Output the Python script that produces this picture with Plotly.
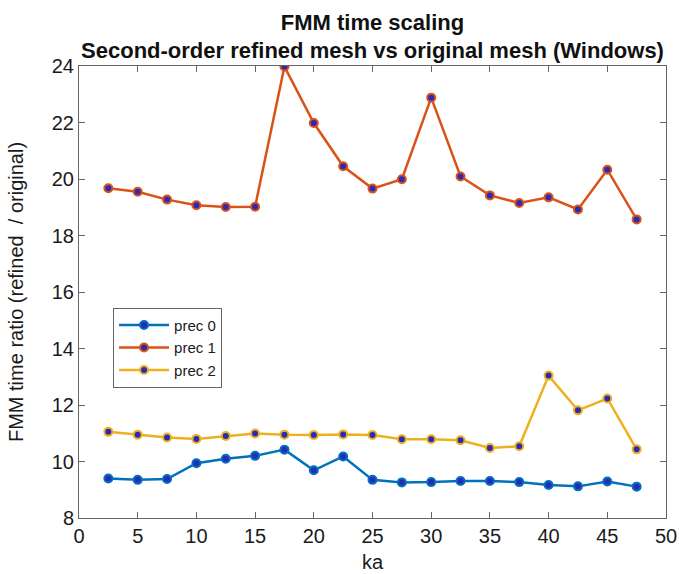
import plotly.graph_objects as go

ka = [2.5, 5, 7.5, 10, 12.5, 15, 17.5, 20, 22.5, 25, 27.5, 30, 32.5, 35, 37.5, 40, 42.5, 45, 47.5]
prec0 = [9.40, 9.35, 9.38, 9.94, 10.10, 10.20, 10.42, 9.69, 10.18, 9.35, 9.26, 9.27, 9.31, 9.31, 9.27, 9.17, 9.12, 9.29, 9.11]
prec1 = [19.67, 19.55, 19.27, 19.07, 19.01, 19.02, 23.98, 21.98, 20.45, 19.66, 19.99, 22.88, 20.09, 19.42, 19.15, 19.35, 18.92, 20.33, 18.57]
prec2 = [11.05, 10.95, 10.85, 10.80, 10.90, 10.99, 10.95, 10.94, 10.96, 10.94, 10.79, 10.79, 10.75, 10.48, 10.54, 13.04, 11.81, 12.23, 10.43]
names = ["prec 0", "prec 1", "prec 2"]
colors = ["#0072BD", "#D95319", "#EDB120"]
x_ticks = [0, 5, 10, 15, 20, 25, 30, 35, 40, 45, 50]
y_ticks = [8, 10, 12, 14, 16, 18, 20, 22, 24]

FONT = "Liberation Sans, Arial"

fig = go.Figure()
for name, ys, c in zip(names, [prec0, prec1, prec2], colors):
    fig.add_trace(go.Scatter(
        x=ka, y=ys, name=name, mode="lines+markers",
        line=dict(color=c, width=2.5),
        marker=dict(size=8, color="#2a2ab8", line=dict(color=c, width=2)),
    ))

axis_common = dict(
    showline=True, mirror="ticks", linecolor="#666666", linewidth=1,
    ticks="inside", ticklen=6, tickcolor="#666666",
    showgrid=False, zeroline=False, automargin=False,
    ticklabeloverflow="allow",
    tickfont=dict(family=FONT, size=20, color="#1a1a1a"),
)

fig.update_layout(
    width=679, height=574,
    paper_bgcolor="white", plot_bgcolor="white",
    margin=dict(l=79, r=13, t=66, b=56),
    title=dict(
        text="<b>FMM time scaling<br>Second-order refined mesh vs original mesh (Windows)</b>",
        x=0.5, xref="paper", xanchor="center",
        y=0.9486, yref="container", yanchor="top",
        font=dict(family=FONT, size=22, color="#111111"),
        automargin=False,
    ),
    xaxis=dict(range=[0, 50], tickvals=x_ticks,
               title=dict(text="ka", font=dict(family=FONT, size=20, color="#1a1a1a"), standoff=8),
               **axis_common),
    yaxis=dict(range=[8, 24], tickvals=y_ticks,
               title=dict(text="FMM time ratio (refined  / original)", font=dict(family=FONT, size=20, color="#1a1a1a"), standoff=22),
               **axis_common),
    legend=dict(
        x=0.058, y=0.465, xanchor="left", yanchor="top",
        bgcolor="white", bordercolor="#666666", borderwidth=1,
        font=dict(family=FONT, size=15, color="#1a1a1a"),
        tracegroupgap=0, itemwidth=50,
    ),
    showlegend=True,
)

fig.write_html(
    "out.html",
    config={"displayModeBar": False},
    post_script="document.body.style.margin='0px';document.body.style.overflow='hidden';",
)
